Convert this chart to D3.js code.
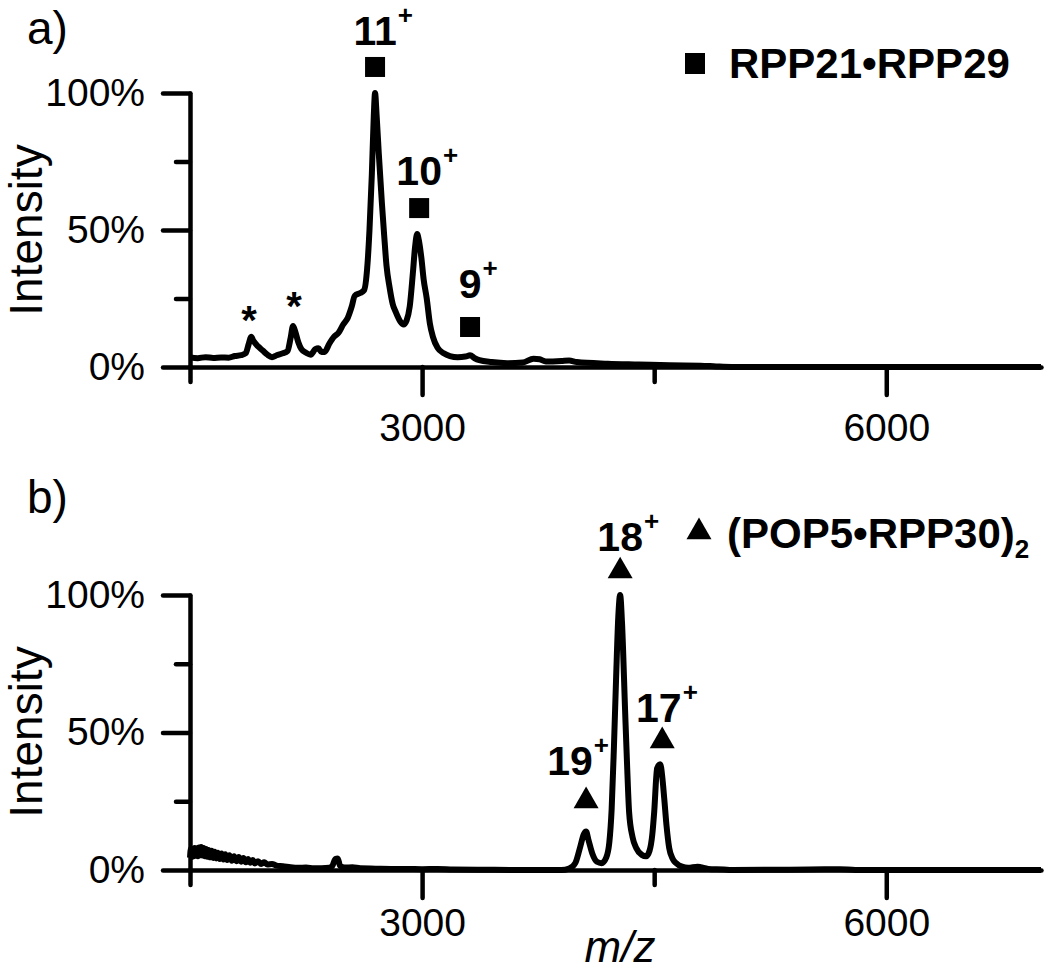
<!DOCTYPE html>
<html>
<head>
<meta charset="utf-8">
<script src="https://cdn.jsdelivr.net/npm/d3@7"></script>
<style>
  body { margin: 0; background: #fff; }
  svg { display: block; }
</style>
</head>
<body>
<script>
const width = 1050;
const height = 974;

// m/z and relative intensity (%)
const mzA = [1500, 1550, 1600, 1650, 1700, 1750, 1790, 1830, 1860, 1880, 1895, 1910, 1940, 1970, 2000, 2030, 2060, 2100, 2130, 2150, 2166, 2180, 2200, 2220, 2250, 2280, 2310, 2330, 2350, 2370, 2400, 2430, 2460, 2490, 2520, 2545, 2565, 2600, 2625, 2645, 2660, 2675, 2688, 2696, 2706, 2720, 2740, 2755, 2770, 2790, 2810, 2830, 2860, 2880, 2900, 2920, 2940, 2955, 2968, 2980, 2995, 3010, 3030, 3050, 3070, 3100, 3140, 3180, 3230, 3280, 3310, 3340, 3370, 3450, 3550, 3650, 3720, 3760, 3800, 3900, 3950, 4000, 4200, 4400, 4600, 4800, 4900, 5000, 7000];
const intA = [3.5, 3.2, 3.6, 3.3, 3.5, 3.4, 4.0, 4.3, 5.0, 8.5, 11.0, 9.5, 7.5, 6.0, 4.5, 3.6, 4.3, 5.0, 5.8, 10.5, 15.0, 13.0, 9.0, 6.5, 5.2, 4.5, 6.5, 6.8, 5.5, 5.5, 8.5, 11.0, 12.5, 15.5, 18.0, 22.0, 26.0, 27.0, 28.0, 36.0, 50.0, 70.0, 92.0, 100, 92, 78, 60, 48, 37, 29, 23, 20, 16.5, 15.5, 17, 22, 34, 44, 48.5, 46, 40, 32, 25, 16, 11, 7, 5, 4, 3.6, 3.8, 4.3, 3.2, 2.5, 1.8, 1.4, 1.6, 3.0, 2.8, 2.0, 2.2, 2.4, 1.8, 1.2, 0.9, 0.6, 0.5, 0.2, 0, 0];

// m/z and relative intensity (%)
const mzB = [1500, 1506, 1512, 1518, 1524, 1530, 1537, 1544, 1551, 1558, 1565, 1572, 1580, 1588, 1596, 1604, 1612, 1620, 1630, 1640, 1650, 1660, 1670, 1680, 1692, 1704, 1716, 1728, 1740, 1755, 1770, 1785, 1800, 1815, 1830, 1845, 1860, 1875, 1890, 1905, 1920, 1940, 1960, 1980, 2000, 2030, 2060, 2100, 2150, 2200, 2250, 2300, 2400, 2420, 2440, 2455, 2470, 2500, 2550, 2600, 2700, 2800, 2900, 3000, 3100, 3200, 3400, 3600, 3900, 3950, 3990, 4020, 4045, 4060, 4075, 4100, 4130, 4160, 4190, 4210, 4225, 4240, 4254, 4268, 4280, 4292, 4312, 4325, 4338, 4360, 4384, 4420, 4448, 4470, 4488, 4500, 4519, 4539, 4552, 4565, 4580, 4597, 4620, 4642, 4680, 4720, 4780, 4800, 4850, 4950, 5000, 5500, 5700, 5800, 7000];
const intB = [4.5, 7.8, 4.8, 7.6, 5.0, 8.0, 5.2, 7.9, 5.0, 8.2, 5.4, 8.4, 5.3, 8.0, 5.0, 7.6, 4.8, 7.3, 4.6, 7.0, 4.4, 6.6, 4.2, 6.3, 4.0, 6.0, 3.8, 5.7, 3.6, 5.4, 3.4, 5.0, 3.2, 4.7, 3.0, 4.4, 2.8, 4.0, 2.6, 3.6, 2.4, 3.2, 2.2, 2.8, 2.0, 2.2, 1.6, 1.4, 1.0, 0.8, 0.9, 0.6, 0.8, 1.5, 4.0, 4.2, 1.5, 0.9, 1.0, 0.6, 0.5, 0.4, 0.4, 0.3, 0.4, 0.2, 0.1, 0, 0, 0.5, 2.5, 8, 13, 14, 11, 6, 3, 2.5, 4.5, 10, 22, 45, 70, 92, 100, 90, 58, 38, 21, 12, 8, 5.5, 5, 7, 13, 21, 37, 38.5, 34, 26, 16, 8, 4, 2.5, 1.2, 0.8, 1.2, 1.0, 0.4, 0.2, 0, 0.2, 0.3, 0, 0];

// axis ticks
const xMajorTicks = [3000, 6000];
const xMinorTicks = [1500, 4500];
const yMajorTicks = [0, 50, 100];
const yMinorTicks = [25, 75];

// charge-state annotations: label m/z, marker level and label level (in %)
const chargesA = [
  { z: '11', mz: 2696, marker: 109.5, label: 117.5 },
  { z: '10', mz: 2981, marker: 58, label: 66.4 },
  { z: '9', mz: 3310, marker: 14.6, label: 25.2 },
];
const chargesB = [
  { z: '18', mz: 4280, marker: 104.7, label: 116, labelMz: 4280 },
  { z: '17', mz: 4552, marker: 42.9, label: 53.8, labelMz: 4530 },
  { z: '19', mz: 4060, marker: 21.1, label: 34.5, labelMz: 3956 },
];
// impurity peaks marked with asterisks (panel a)
const starsA = [
  { mz: 1881, level: 12 },
  { mz: 2172, level: 17.2 },
];

const font = "'Liberation Sans', Arial, Helvetica, sans-serif";

const svg = d3
  .select('body')
  .append('svg')
  .attr('width', width)
  .attr('height', height)
  .attr('viewBox', `0 0 ${width} ${height}`);

const x = d3.scaleLinear().domain([1500, 7000]).range([190, 1041]);

const panels = [
  {
    name: 'a)', top: 93, bottom: 367, mz: mzA, int: intA,
    xPad: 18, nameY: 44, labelY: 230,
  },
  {
    name: 'b)', top: 595, bottom: 870, mz: mzB, int: intB,
    xPad: 10, nameY: 513, labelY: 732,
  },
];

panels.forEach((p) => {
  const y = d3.scaleLinear().domain([0, 100]).range([p.bottom, p.top]);
  p.y = y;
  const g = svg.append('g');

  // spectrum trace
  const data = p.mz.map((m, i) => [m, p.int[i]]);
  const line = d3
    .line()
    .x((d) => x(d[0]))
    .y((d) => y(d[1]))
    .curve(d3.curveMonotoneX);

  g.append('path')
    .datum(data)
    .attr('d', line)
    .attr('fill', 'none')
    .attr('stroke', '#000')
    .attr('stroke-width', 6)
    .attr('stroke-linejoin', 'round');

  // y axis (major + minor)
  g.append('g')
    .attr('transform', `translate(${x(1500)},0)`)
    .call(
      d3.axisLeft(y)
        .tickValues(yMajorTicks)
        .tickSize(27)
        .tickSizeOuter(0)
        .tickPadding(18)
        .tickFormat((d) => d + '%')
    );
  g.append('g')
    .attr('transform', `translate(${x(1500)},0)`)
    .call(d3.axisLeft(y).tickValues(yMinorTicks).tickSize(14).tickSizeOuter(0).tickFormat(''))
    .select('.domain')
    .remove();

  // x axis (major + minor)
  g.append('g')
    .attr('transform', `translate(0,${p.bottom})`)
    .call(
      d3.axisBottom(x)
        .tickValues(xMajorTicks)
        .tickSize(28)
        .tickSizeOuter(0)
        .tickPadding(p.xPad)
        .tickFormat(d3.format('d'))
    );
  g.append('g')
    .attr('transform', `translate(0,${p.bottom})`)
    .call(d3.axisBottom(x).tickValues(xMinorTicks).tickSize(15).tickSizeOuter(0).tickFormat(''))
    .select('.domain')
    .remove();

  g.selectAll('.domain, .tick line')
    .attr('stroke', '#000')
    .attr('stroke-width', 4.5)
    .attr('stroke-linecap', 'round');
  g.selectAll('.tick text')
    .attr('fill', '#000')
    .style('font-family', font)
    .style('font-size', '39px');

  // panel letter
  svg.append('text')
    .attr('x', 27)
    .attr('y', p.nameY)
    .style('font-family', font)
    .style('font-size', '46px')
    .text(p.name);

  // y axis title
  svg.append('text')
    .attr('transform', `translate(42,${p.labelY}) rotate(-90)`)
    .attr('text-anchor', 'middle')
    .style('font-family', font)
    .style('font-size', '46px')
    .text('Intensity');
});

// charge label: number centred on marker, small bold "+" top right
function chargeLabel(cx, by, z) {
  const t = svg.append('text')
    .attr('x', cx)
    .attr('y', by)
    .attr('text-anchor', 'middle')
    .style('font-family', font)
    .style('font-weight', 'bold')
    .style('font-size', '41px')
    .text(z);
  const w = t.node().getComputedTextLength();
  svg.append('text')
    .attr('x', cx + w / 2 + 1)
    .attr('y', by - 21)
    .style('font-family', font)
    .style('font-weight', 'bold')
    .style('font-size', '26px')
    .text('+');
}

// panel a annotations
const pa = panels[0];
chargesA.forEach((c) => {
  svg.append('rect')
    .attr('x', x(c.mz) - 10)
    .attr('y', pa.y(c.marker) - 10)
    .attr('width', 20)
    .attr('height', 20)
    .attr('fill', '#000');
  chargeLabel(x(c.mz), pa.y(c.label), c.z);
});
starsA.forEach((s) => {
  svg.append('text')
    .attr('x', x(s.mz))
    .attr('y', pa.y(s.level))
    .attr('text-anchor', 'middle')
    .style('font-family', font)
    .style('font-weight', 'bold')
    .style('font-size', '40px')
    .text('*');
});

// panel b annotations
const pb = panels[1];
const tri = d3.symbol().type(d3.symbolTriangle).size(270);
chargesB.forEach((c) => {
  svg.append('path')
    .attr('d', tri())
    .attr('transform', `translate(${x(c.mz)},${pb.y(c.marker) - 11})`)
    .attr('fill', '#000');
  chargeLabel(x(c.labelMz), pb.y(c.label), c.z);
});

// legends
svg.append('rect')
  .attr('x', 685)
  .attr('y', 53)
  .attr('width', 20)
  .attr('height', 21)
  .attr('fill', '#000');
svg.append('text')
  .attr('x', 729)
  .attr('y', 78)
  .style('font-family', font)
  .style('font-weight', 'bold')
  .style('font-size', '42px')
  .text('RPP21•RPP29');

svg.append('path')
  .attr('d', tri())
  .attr('transform', 'translate(699,532)')
  .attr('fill', '#000');
const legB = svg.append('text')
  .attr('x', 727)
  .attr('y', 548)
  .style('font-family', font)
  .style('font-weight', 'bold')
  .style('font-size', '42px');
legB.append('tspan').text('(POP5•RPP30)');
legB.append('tspan')
  .attr('dy', 10)
  .style('font-size', '26px')
  .text('2');

// x axis title
svg.append('text')
  .attr('x', 620)
  .attr('y', 962)
  .attr('text-anchor', 'middle')
  .style('font-family', font)
  .style('font-style', 'italic')
  .style('font-size', '44px')
  .text('m/z');
</script>
</body>
</html>
